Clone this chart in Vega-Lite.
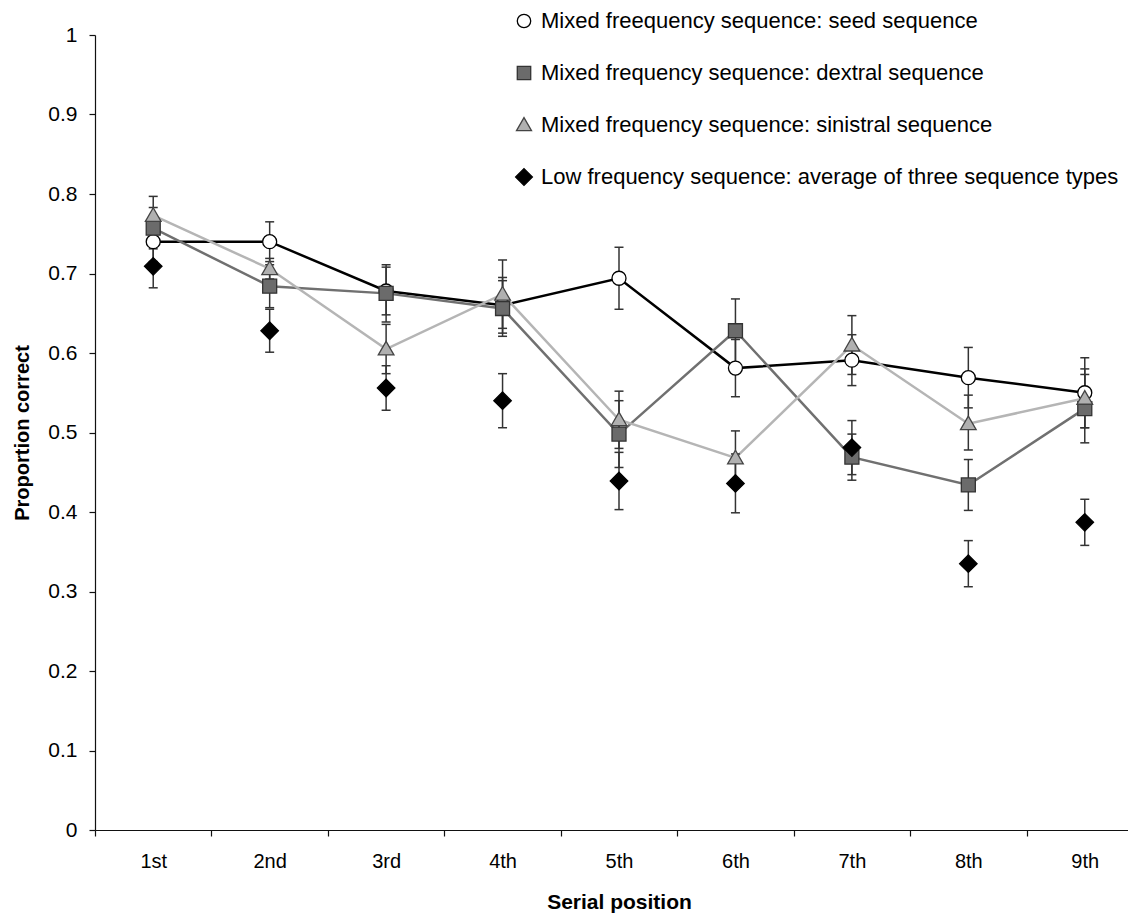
{
  "$schema": "https://vega.github.io/schema/vega-lite/v6.json",
  "autosize": {"type": "none"},
  "padding": {"left": 95, "top": 35, "right": 0, "bottom": 91},
  "width": 1033,
  "height": 795,
  "background": "white",
  "config": {
    "view": {"stroke": null},
    "font": "Liberation Sans",
    "axis": {"labelFont": "Liberation Sans", "titleFont": "Liberation Sans", "labelColor": "black", "titleColor": "black", "domainColor": "#111", "tickColor": "#111", "domainWidth": 1.2, "tickWidth": 1.2, "grid": false}
  },
  "data": {"values": [
    {"pos": "1st", "series": "Mixed freequency sequence: seed sequence", "y": 0.740, "lo": 0.715, "hi": 0.765},
    {"pos": "2nd", "series": "Mixed freequency sequence: seed sequence", "y": 0.740, "lo": 0.715, "hi": 0.765},
    {"pos": "3rd", "series": "Mixed freequency sequence: seed sequence", "y": 0.678, "lo": 0.648, "hi": 0.708},
    {"pos": "4th", "series": "Mixed freequency sequence: seed sequence", "y": 0.660, "lo": 0.625, "hi": 0.695},
    {"pos": "5th", "series": "Mixed freequency sequence: seed sequence", "y": 0.694, "lo": 0.655, "hi": 0.733},
    {"pos": "6th", "series": "Mixed freequency sequence: seed sequence", "y": 0.581, "lo": 0.545, "hi": 0.617},
    {"pos": "7th", "series": "Mixed freequency sequence: seed sequence", "y": 0.591, "lo": 0.559, "hi": 0.623},
    {"pos": "8th", "series": "Mixed freequency sequence: seed sequence", "y": 0.569, "lo": 0.531, "hi": 0.607},
    {"pos": "9th", "series": "Mixed freequency sequence: seed sequence", "y": 0.550, "lo": 0.506, "hi": 0.594},
    {"pos": "1st", "series": "Mixed frequency sequence: dextral sequence", "y": 0.757, "lo": 0.731, "hi": 0.783},
    {"pos": "2nd", "series": "Mixed frequency sequence: dextral sequence", "y": 0.684, "lo": 0.657, "hi": 0.711},
    {"pos": "3rd", "series": "Mixed frequency sequence: dextral sequence", "y": 0.675, "lo": 0.639, "hi": 0.711},
    {"pos": "4th", "series": "Mixed frequency sequence: dextral sequence", "y": 0.656, "lo": 0.621, "hi": 0.691},
    {"pos": "5th", "series": "Mixed frequency sequence: dextral sequence", "y": 0.498, "lo": 0.456, "hi": 0.540},
    {"pos": "6th", "series": "Mixed frequency sequence: dextral sequence", "y": 0.628, "lo": 0.588, "hi": 0.668},
    {"pos": "7th", "series": "Mixed frequency sequence: dextral sequence", "y": 0.469, "lo": 0.440, "hi": 0.498},
    {"pos": "8th", "series": "Mixed frequency sequence: dextral sequence", "y": 0.434, "lo": 0.402, "hi": 0.466},
    {"pos": "9th", "series": "Mixed frequency sequence: dextral sequence", "y": 0.530, "lo": 0.487, "hi": 0.573},
    {"pos": "1st", "series": "Mixed frequency sequence: sinistral sequence", "y": 0.773, "lo": 0.749, "hi": 0.797},
    {"pos": "2nd", "series": "Mixed frequency sequence: sinistral sequence", "y": 0.706, "lo": 0.693, "hi": 0.719},
    {"pos": "3rd", "series": "Mixed frequency sequence: sinistral sequence", "y": 0.605, "lo": 0.574, "hi": 0.636},
    {"pos": "4th", "series": "Mixed frequency sequence: sinistral sequence", "y": 0.674, "lo": 0.631, "hi": 0.717},
    {"pos": "5th", "series": "Mixed frequency sequence: sinistral sequence", "y": 0.516, "lo": 0.480, "hi": 0.552},
    {"pos": "6th", "series": "Mixed frequency sequence: sinistral sequence", "y": 0.468, "lo": 0.434, "hi": 0.502},
    {"pos": "7th", "series": "Mixed frequency sequence: sinistral sequence", "y": 0.610, "lo": 0.573, "hi": 0.647},
    {"pos": "8th", "series": "Mixed frequency sequence: sinistral sequence", "y": 0.511, "lo": 0.478, "hi": 0.547},
    {"pos": "9th", "series": "Mixed frequency sequence: sinistral sequence", "y": 0.543, "lo": 0.506, "hi": 0.580},
    {"pos": "1st", "series": "Low frequency sequence: average of three sequence types", "y": 0.709, "lo": 0.682, "hi": 0.736},
    {"pos": "2nd", "series": "Low frequency sequence: average of three sequence types", "y": 0.628, "lo": 0.601, "hi": 0.655},
    {"pos": "3rd", "series": "Low frequency sequence: average of three sequence types", "y": 0.556, "lo": 0.528, "hi": 0.584},
    {"pos": "4th", "series": "Low frequency sequence: average of three sequence types", "y": 0.540, "lo": 0.506, "hi": 0.574},
    {"pos": "5th", "series": "Low frequency sequence: average of three sequence types", "y": 0.439, "lo": 0.403, "hi": 0.475},
    {"pos": "6th", "series": "Low frequency sequence: average of three sequence types", "y": 0.436, "lo": 0.399, "hi": 0.473},
    {"pos": "7th", "series": "Low frequency sequence: average of three sequence types", "y": 0.481, "lo": 0.447, "hi": 0.515},
    {"pos": "8th", "series": "Low frequency sequence: average of three sequence types", "y": 0.335, "lo": 0.306, "hi": 0.364},
    {"pos": "9th", "series": "Low frequency sequence: average of three sequence types", "y": 0.387, "lo": 0.358, "hi": 0.416}
  ]},
  "encoding": {
    "x": {
      "field": "pos", "type": "ordinal", "bandPosition": 0.5,
      "scale": {"type": "band", "range": [0, 1048], "paddingInner": 0, "paddingOuter": 0},
      "axis": {"title": "Serial position", "labelAngle": 0, "tickBand": "extent", "tickSize": 6, "labelPadding": 15, "labelFontSize": 20, "titleFontSize": 21, "titleFontWeight": "bold", "titlePadding": 20}
    }
  },
  "layer": [
    {
      "transform": [{"filter": "datum.series !== 'Low frequency sequence: average of three sequence types'"}],
      "mark": {"type": "line", "strokeWidth": 2.5},
      "encoding": {
        "y": {"field": "y", "type": "quantitative",
          "scale": {"domain": [0, 1], "nice": false, "zero": true},
          "axis": {"title": "Proportion correct", "values": [0, 0.1, 0.2, 0.3, 0.4, 0.5, 0.6, 0.7, 0.8, 0.9, 1], "format": "~g", "tickSize": 6, "labelPadding": 12, "labelFontSize": 21, "titleFontSize": 20, "titleFontWeight": "bold", "titlePadding": 15}},
        "color": {"field": "series", "type": "nominal", "legend": null,
          "scale": {"domain": ["Mixed freequency sequence: seed sequence", "Mixed frequency sequence: dextral sequence", "Mixed frequency sequence: sinistral sequence"], "range": ["#000000", "#707070", "#b5b5b5"]}}
      }
    },
    {
      "mark": {"type": "rule", "color": "#333333", "strokeWidth": 1.5},
      "encoding": {
        "y": {"field": "lo", "type": "quantitative", "axis": {"title": "Proportion correct", "values": [0, 0.1, 0.2, 0.3, 0.4, 0.5, 0.6, 0.7, 0.8, 0.9, 1], "format": "~g", "tickSize": 6, "labelPadding": 12, "labelFontSize": 21, "titleFontSize": 20, "titleFontWeight": "bold", "titlePadding": 15}},
        "y2": {"field": "hi"}
      }
    },
    {
      "mark": {"type": "tick", "color": "#333333", "thickness": 1.5, "size": 9, "orient": "horizontal", "opacity": 1},
      "encoding": {"y": {"field": "lo", "type": "quantitative", "axis": {"title": "Proportion correct", "values": [0, 0.1, 0.2, 0.3, 0.4, 0.5, 0.6, 0.7, 0.8, 0.9, 1], "format": "~g", "tickSize": 6, "labelPadding": 12, "labelFontSize": 21, "titleFontSize": 20, "titleFontWeight": "bold", "titlePadding": 15}}}
    },
    {
      "mark": {"type": "tick", "color": "#333333", "thickness": 1.5, "size": 9, "orient": "horizontal", "opacity": 1},
      "encoding": {"y": {"field": "hi", "type": "quantitative", "axis": {"title": "Proportion correct", "values": [0, 0.1, 0.2, 0.3, 0.4, 0.5, 0.6, 0.7, 0.8, 0.9, 1], "format": "~g", "tickSize": 6, "labelPadding": 12, "labelFontSize": 21, "titleFontSize": 20, "titleFontWeight": "bold", "titlePadding": 15}}}
    },
    {
      "mark": {"type": "point", "filled": true, "opacity": 1, "strokeWidth": 1.3, "size": 196},
      "encoding": {
        "y": {"field": "y", "type": "quantitative", "axis": {"title": "Proportion correct", "values": [0, 0.1, 0.2, 0.3, 0.4, 0.5, 0.6, 0.7, 0.8, 0.9, 1], "format": "~g", "tickSize": 6, "labelPadding": 12, "labelFontSize": 21, "titleFontSize": 20, "titleFontWeight": "bold", "titlePadding": 15}},
        "shape": {"field": "series", "type": "nominal",
          "scale": {"domain": ["Mixed freequency sequence: seed sequence", "Mixed frequency sequence: dextral sequence", "Mixed frequency sequence: sinistral sequence", "Low frequency sequence: average of three sequence types"], "range": ["circle", "square", "M0,-1.1L1.12,0.85H-1.12Z", "M0,-1.25L1.25,0L0,1.25L-1.25,0Z"]},
          "legend": {
            "orient": "none", "legendX": 418, "legendY": -25, "title": null, "padding": 0,
            "symbolSize": 180, "symbolStrokeWidth": 1.3, "symbolOpacity": 1,
            "labelFont": "Liberation Sans", "labelFontSize": 22, "labelColor": "black", "labelLimit": 800,
            "labelOffset": 6, "rowPadding": 30
          }},
        "fill": {"field": "series", "type": "nominal",
          "scale": {"domain": ["Mixed freequency sequence: seed sequence", "Mixed frequency sequence: dextral sequence", "Mixed frequency sequence: sinistral sequence", "Low frequency sequence: average of three sequence types"], "range": ["#ffffff", "#6b6b6b", "#b0b0b0", "#000000"]}},
        "stroke": {"field": "series", "type": "nominal",
          "scale": {"domain": ["Mixed freequency sequence: seed sequence", "Mixed frequency sequence: dextral sequence", "Mixed frequency sequence: sinistral sequence", "Low frequency sequence: average of three sequence types"], "range": ["#000000", "#333333", "#444444", "#000000"]}}
      }
    }
  ]
}
